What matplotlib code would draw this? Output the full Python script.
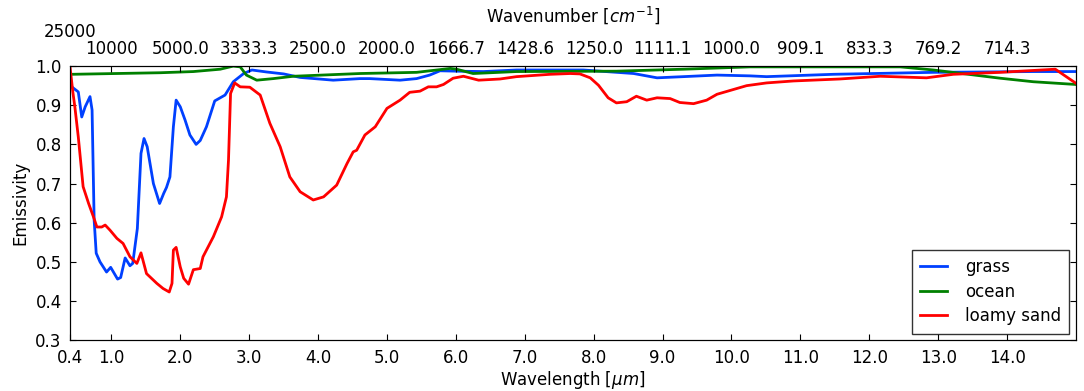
import numpy as np
import matplotlib
matplotlib.use('Agg')
import matplotlib.pyplot as plt

# wavelength [um] / emissivity
grass_wl = [0.40, 0.425, 0.52, 0.57, 0.62, 0.69, 0.72, 0.75, 0.78, 0.835, 0.93, 0.99, 1.03,
            1.09, 1.135, 1.20, 1.27, 1.31, 1.377, 1.43, 1.474, 1.52, 1.61, 1.70, 1.76, 1.80,
            1.85, 1.90, 1.94, 2.00, 2.07, 2.14, 2.23, 2.29, 2.38, 2.50, 2.65, 2.77, 2.92, 3.04,
            3.25, 3.50, 3.74, 4.22, 4.61, 4.75, 5.19, 5.43, 5.62, 5.77, 6.01, 6.40, 6.88, 7.85,
            8.58, 8.92, 9.30, 9.79, 10.27, 10.51, 11.48, 12.93, 14.38, 15.0]
grass_em = [0.950, 0.947, 0.934, 0.870, 0.896, 0.922, 0.888, 0.607, 0.522, 0.500, 0.474, 0.486,
            0.474, 0.456, 0.460, 0.510, 0.490, 0.496, 0.585, 0.777, 0.815, 0.794, 0.700, 0.649,
            0.675, 0.690, 0.717, 0.845, 0.913, 0.896, 0.862, 0.824, 0.800, 0.810, 0.845, 0.911,
            0.926, 0.960, 0.981, 0.990, 0.985, 0.980, 0.971, 0.964, 0.968, 0.968, 0.964, 0.968,
            0.977, 0.988, 0.987, 0.986, 0.990, 0.990, 0.981, 0.970, 0.973, 0.977, 0.975, 0.973,
            0.979, 0.984, 0.986, 0.986]

ocean_wl = [0.40, 0.425, 1.71, 2.19, 2.58, 2.77, 2.87, 2.96, 3.11, 3.35, 3.64, 4.61, 5.43,
            5.92, 6.01, 6.25, 6.88, 8.33, 9.30, 10.27, 10.51, 12.45, 12.93, 13.90, 14.38, 15.0]
ocean_em = [0.979, 0.979, 0.983, 0.986, 0.992, 1.000, 0.998, 0.977, 0.964, 0.968, 0.974, 0.981,
            0.984, 0.994, 0.992, 0.981, 0.986, 0.987, 0.992, 0.998, 0.998, 0.998, 0.990, 0.969,
            0.960, 0.953]

sand_wl = [0.40, 0.44, 0.47, 0.52, 0.59, 0.67, 0.74, 0.79, 0.86, 0.91, 0.98, 1.08, 1.17,
           1.27, 1.37, 1.43, 1.51, 1.66, 1.75, 1.84, 1.88, 1.90, 1.94, 2.00, 2.05, 2.12, 2.19,
           2.29, 2.33, 2.48, 2.60, 2.67, 2.70, 2.73, 2.79, 2.87, 3.01, 3.16, 3.30, 3.45, 3.59,
           3.74, 3.93, 4.08, 4.27, 4.42, 4.51, 4.56, 4.68, 4.83, 5.00, 5.19, 5.33, 5.48, 5.60,
           5.72, 5.82, 5.96, 6.11, 6.33, 6.64, 6.88, 7.37, 7.66, 7.80, 7.95, 8.07, 8.21, 8.33,
           8.48, 8.62, 8.77, 8.92, 9.11, 9.25, 9.45, 9.64, 9.79, 10.22, 10.51, 10.90, 11.57,
           12.16, 12.83, 13.22, 13.90, 14.70, 15.0]
sand_em = [0.998, 0.935, 0.896, 0.819, 0.692, 0.649, 0.615, 0.589, 0.589, 0.594, 0.581, 0.560,
           0.547, 0.513, 0.496, 0.523, 0.470, 0.445, 0.432, 0.423, 0.445, 0.530, 0.537, 0.487,
           0.458, 0.443, 0.480, 0.483, 0.513, 0.564, 0.615, 0.666, 0.760, 0.930, 0.957, 0.947,
           0.946, 0.926, 0.854, 0.794, 0.717, 0.679, 0.658, 0.666, 0.696, 0.751, 0.781, 0.785,
           0.824, 0.845, 0.892, 0.913, 0.933, 0.936, 0.947, 0.947, 0.953, 0.969, 0.974, 0.964,
           0.967, 0.973, 0.979, 0.981, 0.980, 0.970, 0.951, 0.919, 0.906, 0.909, 0.923, 0.913,
           0.919, 0.917, 0.907, 0.904, 0.913, 0.928, 0.950, 0.957, 0.962, 0.967, 0.974, 0.970,
           0.979, 0.984, 0.992, 0.956]

xticks = [0.4] + list(range(1, 15))
xticklabels = ['0.4'] + ['%.1f' % t for t in range(1, 15)]
top_ticks = list(range(1, 15))
top_labels = ['10000'] + ['%.1f' % (10000.0 / t) for t in range(2, 15)]

plt.rcParams['font.family'] = 'DejaVu Sans'
plt.rcParams['font.size'] = 12
plt.rcParams['xtick.direction'] = 'in'
plt.rcParams['ytick.direction'] = 'in'
plt.rcParams['xtick.major.size'] = 4
plt.rcParams['ytick.major.size'] = 4

fig = plt.figure(figsize=(10.84, 3.91), dpi=100)
ax = fig.add_axes([0.0646, 0.130, 0.9280, 0.701])

ax.plot(grass_wl, grass_em, color='#0040ff', lw=2, label='grass')
ax.plot(ocean_wl, ocean_em, color='#008000', lw=2, label='ocean')
ax.plot(sand_wl, sand_em, color='#ff0000', lw=2, label='loamy sand')

ax.set_xlim(0.4, 15)
ax.set_ylim(0.3, 1.0)
ax.set_xticks(xticks)
ax.set_xticklabels(xticklabels)
ax.set_yticks(np.arange(0.3, 1.01, 0.1))
ax.set_yticklabels(['%.1f' % v for v in np.arange(0.3, 1.01, 0.1)])
ax.yaxis.set_ticks_position('both')
ax.set_xlabel(r'Wavelength [$\mu m$]', labelpad=2)
ax.set_ylabel('Emissivity')
ax.tick_params(axis='x', pad=6)
ax.tick_params(axis='y', pad=6)

leg = ax.legend(loc='lower right', fancybox=False, handlelength=1.6, handletextpad=1.1,
                labelspacing=0.4, borderpad=0.5, borderaxespad=0.4)
leg.get_frame().set_edgecolor('black')

# top axis: wavenumber, the 0.4 um label is raised so it clears 10000
top = ax.twiny()
top.set_xlim(ax.get_xlim())
top.set_xticks(top_ticks)
top.set_xticklabels(top_labels)
top.set_xticks([0.4], minor=True)
top.set_xticklabels(['25000'], minor=True)
top.tick_params(axis='x', which='major', direction='in', pad=6)
top.tick_params(axis='x', which='minor', direction='in', length=4, pad=18, labelsize=12)
top.set_xlabel(r'Wavenumber [$cm^{-1}$]')
top.xaxis.set_label_coords(0.5, 1.16)

fig.savefig('out.png', dpi=100)
